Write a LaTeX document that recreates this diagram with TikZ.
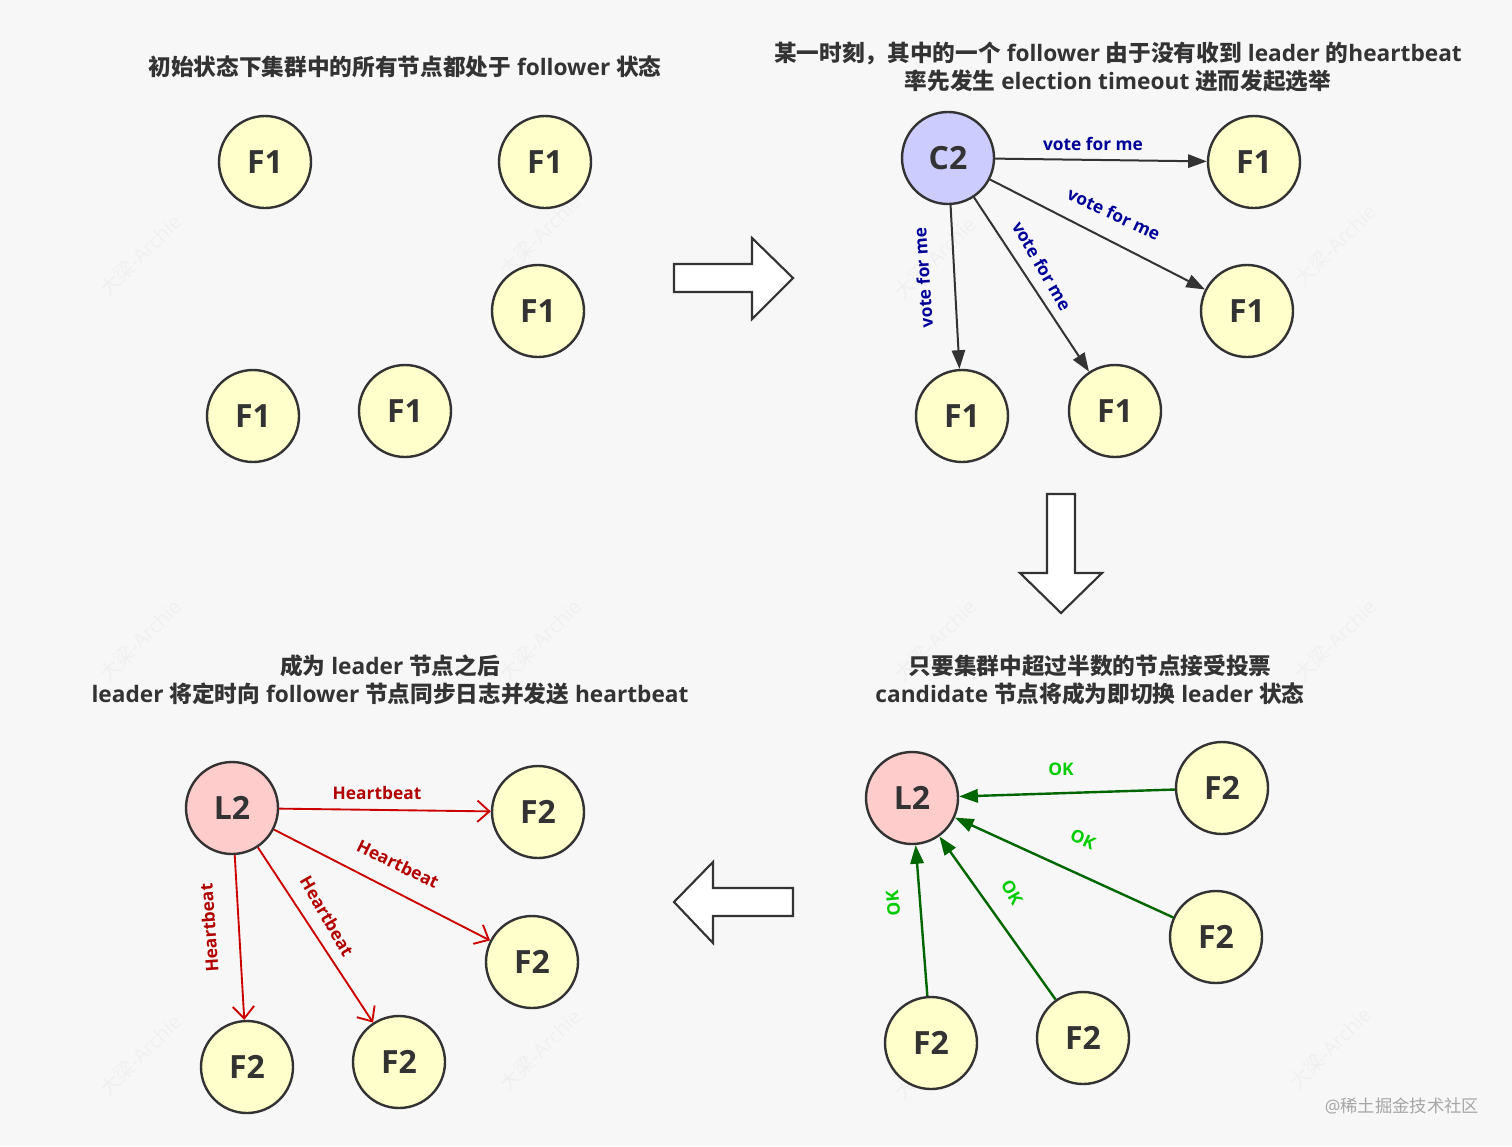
\documentclass[tikz,border=0pt]{standalone}
\usepackage{fontspec}
\setmainfont{Open Sans}
\newfontfamily\cjk{Noto Sans CJK SC}
\usetikzlibrary{arrows.meta}
\definecolor{bg}{HTML}{F7F7F7}
\definecolor{ink}{HTML}{333333}
\definecolor{fyel}{HTML}{FFFFCC}
\definecolor{cblue}{HTML}{CCCCFF}
\definecolor{lpink}{HTML}{FFCCCC}
\definecolor{votec}{HTML}{000099}
\definecolor{redl}{HTML}{CC0000}
\definecolor{redt}{HTML}{B20000}
\definecolor{greenl}{HTML}{006600}
\definecolor{greent}{HTML}{00CC00}
\begin{document}
\begin{tikzpicture}[x=0.75pt,y=-0.75pt,
  every node/.style={inner sep=0pt},
  nd/.style={circle,draw=ink,line width=1.8pt,minimum size=69pt,font=\fontsize{24}{24}\selectfont\bfseries,text=ink},
  fnode/.style={nd,fill=fyel},
  cnode/.style={nd,fill=cblue},
  lnode/.style={nd,fill=lpink},
  title/.style={align=center,text=ink,font=\fontsize{17}{21}\selectfont\bfseries},
  vote/.style={draw=ink,line width=1.5pt,-{Triangle[length=14pt,width=10pt]}},
  hb/.style={draw=redl,line width=1.4pt,-{Straight Barb[length=9pt,width=16pt]}},
  okl/.style={draw=greenl,line width=1.8pt,-{Triangle[length=14pt,width=10pt]}},
  vlab/.style={text=votec,font=\fontsize{13}{13}\selectfont\bfseries},
  hlab/.style={text=redt,font=\fontsize{13}{13}\selectfont\bfseries},
  olab/.style={text=greent,font=\fontsize{13}{13}\selectfont\bfseries},
  bigarrow/.style={draw=ink,fill=white,line width=1.6pt,line join=miter},
  wm/.style={text=black!6,rotate=45,font=\fontsize{15}{15}\selectfont}
]
\useasboundingbox (0,0) rectangle (1512,1146);
\fill[bg] (0,0) rectangle (1512,1146);

% watermarks
\foreach \px/\py in {140/255,540/235,935/258,1335/245,140/640,540/640,935/640,1335/640,140/1055,540/1050,935/1058,1330/1048}
  \node[wm] at (\px,\py) {{\cjk 大梁}-Archie};
\node[text=black!35,font=\fontsize{13}{13}\selectfont] (wmk) at (1402,1106) {@{\cjk 稀土掘金技术社区}};

% ---------- panel 1 ----------
\node[title] (t1) at (405,67) {{\cjk 初始状态下集群中的所有节点都处于} follower {\cjk 状态}};
\node[fnode] (a1) at (265,162) {F1};
\node[fnode] (a2) at (545,162) {F1};
\node[fnode] (a3) at (538,311) {F1};
\node[fnode] (a4) at (253,416) {F1};
\node[fnode] (a5) at (405,411) {F1};

% right arrow
\draw[bigarrow] (674,264) -- (752,264) -- (752,238) -- (793,278) -- (752,319) -- (752,292) -- (674,292) -- cycle;

% ---------- panel 2 ----------
\node[title] (t2) at (1118,67) {{\cjk 某一时刻，其中的一个} follower {\cjk 由于没有收到} leader {\cjk 的}heartbeat\\{\cjk 率先发生} election timeout {\cjk 进而发起选举}};
\node[cnode] (c2) at (948,158) {C2};
\node[fnode] (b1) at (1254,162) {F1};
\node[fnode] (b2) at (1247,311) {F1};
\node[fnode] (b3) at (962,416) {F1};
\node[fnode] (b4) at (1115,411) {F1};
\draw[vote] (c2) -- (b1);
\draw[vote] (c2) -- (b2);
\draw[vote] (c2) -- (b3);
\draw[vote] (c2) -- (b4);
\node[vlab] (v1) at (1093,144) {vote for me};
\node[vlab,rotate=-25] (v2) at (1114,214) {vote for me};
\node[vlab,rotate=-60] (v3) at (1042,266) {vote for me};
\node[vlab,rotate=94] (v4) at (923,278) {vote for me};

% down arrow
\draw[bigarrow] (1047,494) -- (1075,494) -- (1075,573) -- (1102,573) -- (1061,613) -- (1020,573) -- (1047,573) -- cycle;

% ---------- panel 3 ----------
\node[title] (t3) at (1090,680) {{\cjk 只要集群中超过半数的节点接受投票}\\candidate {\cjk 节点将成为即切换} leader {\cjk 状态}};
\node[lnode] (l3) at (912,798) {L2};
\node[fnode] (d1) at (1222,788) {F2};
\node[fnode] (d2) at (1216,937) {F2};
\node[fnode] (d3) at (931,1043) {F2};
\node[fnode] (d4) at (1083,1038) {F2};
\draw[okl] (d1) -- (l3);
\draw[okl] (d2) -- (l3);
\draw[okl] (d3) -- (l3);
\draw[okl] (d4) -- (l3);
\node[olab] (o1) at (1061,769) {OK};
\node[olab,rotate=-25] (o2) at (1083,839) {OK};
\node[olab,rotate=-60] (o3) at (1012,892) {OK};
\node[olab,rotate=95] (o4) at (893,903) {OK};

% left arrow
\draw[bigarrow] (793,888) -- (713,888) -- (713,862) -- (674,902) -- (713,943) -- (713,916) -- (793,916) -- cycle;

% ---------- panel 4 ----------
\node[title] (t4) at (390,680) {{\cjk 成为} leader {\cjk 节点之后}\\leader {\cjk 将定时向} follower {\cjk 节点同步日志并发送} heartbeat};
\node[lnode] (l4) at (232,808) {L2};
\node[fnode] (e1) at (538,812) {F2};
\node[fnode] (e2) at (532,962) {F2};
\node[fnode] (e3) at (247,1067) {F2};
\node[fnode] (e4) at (399,1062) {F2};
\draw[hb] (l4) -- (e1);
\draw[hb] (l4) -- (e2);
\draw[hb] (l4) -- (e3);
\draw[hb] (l4) -- (e4);
\node[hlab] (h1) at (377,793) {Heartbeat};
\node[hlab,rotate=-26] (h2) at (398,864) {Heartbeat};
\node[hlab,rotate=-60] (h3) at (327,916) {Heartbeat};
\node[hlab,rotate=94] (h4) at (209,928) {Heartbeat};
\end{tikzpicture}
\end{document}
